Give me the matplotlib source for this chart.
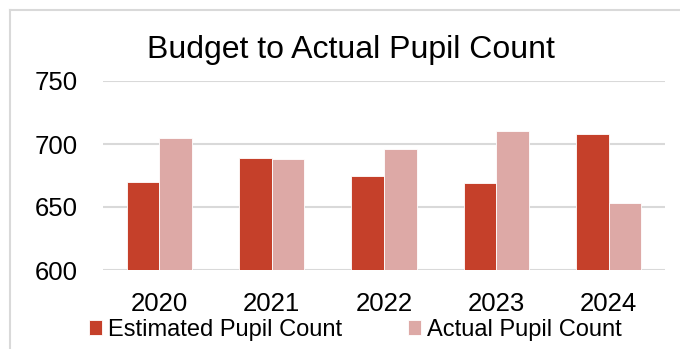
import numpy as np
import matplotlib.pyplot as plt
from matplotlib.lines import Line2D

plt.rcParams['font.family'] = ['Liberation Sans', 'DejaVu Sans']

years = ["2020", "2021", "2022", "2023", "2024"]
estimated = [670, 689, 675, 669, 708]
actual = [705, 688, 696, 710, 653]

W, H = 680, 349
fig = plt.figure(figsize=(6.8, 3.49), dpi=100)
# plot area in pixels: x 103..665, y 81..270 from the top
ax = fig.add_axes([103 / W, 1 - 270 / H, (665 - 103) / W, (270 - 81) / H])

x = np.arange(len(years))
w = 0.29
ax.bar(x - w / 2, estimated, w, color="#C5402A", edgecolor="white", linewidth=0.6,
       label="Estimated Pupil Count", zorder=3)
ax.bar(x + w / 2, actual, w, color="#DDA9A6", edgecolor="white", linewidth=0.6,
       label="Actual Pupil Count", zorder=3)

ax.set_xlim(-0.5, 4.5)
ax.set_ylim(600, 750)
ax.set_yticks([600, 650, 700, 750])
ax.set_xticks(x)
ax.set_xticklabels(years)
ax.tick_params(axis="both", length=0, labelsize=18.5)
ax.tick_params(axis="y", pad=18)
ax.tick_params(axis="x", pad=16)
ax.grid(axis="y", color="#D9D9D9", linewidth=1.5, zorder=0)
for s in ax.spines.values():
    s.set_visible(False)

fig.text(351 / W, 1 - 58 / H, "Budget to Actual Pupil Count", ha="center", va="baseline",
         fontsize=23)

fig.legend(loc="center left", bbox_to_anchor=(89 / W, 1 - 330 / H), ncol=2, frameon=False,
           fontsize=17, handlelength=0.55, handleheight=0.6, handletextpad=0.25,
           columnspacing=2.8, borderpad=0, borderaxespad=0)

# outer chart frame (only top and left edges visible)
fig.add_artist(Line2D([9.5 / W, 9.5 / W], [0, 1 - 9.5 / H], color="#D9D9D9", linewidth=1.5))
fig.add_artist(Line2D([9.5 / W, 1], [1 - 9.5 / H, 1 - 9.5 / H], color="#D9D9D9", linewidth=1.5))

fig.savefig("out.png", dpi=100)
